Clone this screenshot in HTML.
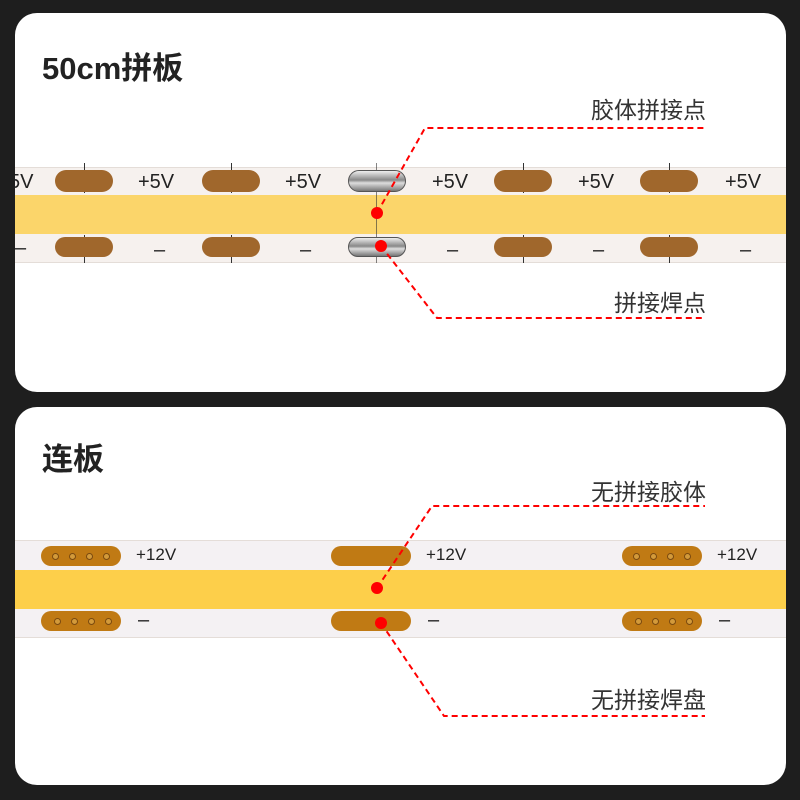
<!DOCTYPE html>
<html><head><meta charset="utf-8"><style>
body{margin:0;width:800px;height:800px;background:#1e1e1e;position:relative;overflow:hidden;font-family:"Liberation Sans","Noto Sans CJK SC",sans-serif}
.card{position:absolute;left:15px;width:771px;background:#fff;border-radius:22px;overflow:hidden}
.t{position:absolute;font-weight:bold;font-size:31px;color:#222}
.lab{position:absolute;font-size:23px;color:#333;right:80px}
.strip{position:absolute;left:0;width:771px;background:#f6f1ee;border-top:1px solid #e4ddd8;border-bottom:1px solid #e4ddd8}
.band{position:absolute;left:0;width:771px;background:#fbd56a}
.pad{position:absolute;background:#a0672c;border-radius:12px}
.pad2{position:absolute;background:#c07a14;border-radius:10px}
.sil{position:absolute;border-radius:12px;background:linear-gradient(#eee,#888 45%,#ddd 60%,#777);border:1px solid #555;box-sizing:border-box}
.v{position:absolute;font-size:20px;color:#222}
.tick{position:absolute;width:1px;background:#333}
.h{position:absolute;display:flex;gap:10px;padding-left:4px}
.h i{width:5px;height:5px;border-radius:50%;border:1px solid #7a4a10;background:#d39a3a}
</style></head><body>
<div class="card" style="top:13px;height:379px">
 <div class="t" style="left:27px;top:30px">50cm拼板</div>
 <div class="lab" style="top:78px">胶体拼接点</div>
 <div class="lab" style="top:271px">拼接焊点</div>
 <div class="strip" style="top:154px;height:94px"></div>
 <div class="band" style="top:182px;height:39px"></div>
 <div class="tick" style="left:69px;top:150px;height:30px"></div>
 <div class="tick" style="left:69px;top:222px;height:28px"></div>
 <div class="tick" style="left:216px;top:150px;height:30px"></div>
 <div class="tick" style="left:216px;top:222px;height:28px"></div>
 <div class="tick" style="left:508px;top:150px;height:30px"></div>
 <div class="tick" style="left:508px;top:222px;height:28px"></div>
 <div class="tick" style="left:654px;top:150px;height:30px"></div>
 <div class="tick" style="left:654px;top:222px;height:28px"></div>
 <div class="tick" style="left:361px;top:150px;height:100px;opacity:.6"></div>
 <div class="pad" style="left:40px;top:157px;width:58px;height:22px"></div>
 <div class="pad" style="left:40px;top:224px;width:58px;height:20px"></div>
 <div class="pad" style="left:187px;top:157px;width:58px;height:22px"></div>
 <div class="pad" style="left:187px;top:224px;width:58px;height:20px"></div>
 <div class="sil" style="left:333px;top:157px;width:58px;height:22px"></div>
 <div class="sil" style="left:333px;top:224px;width:58px;height:20px"></div>
 <div class="pad" style="left:479px;top:157px;width:58px;height:22px"></div>
 <div class="pad" style="left:479px;top:224px;width:58px;height:20px"></div>
 <div class="pad" style="left:625px;top:157px;width:58px;height:22px"></div>
 <div class="pad" style="left:625px;top:224px;width:58px;height:20px"></div>
 <div class="v" style="left:-6px;top:158px">5V</div>
 <div class="v" style="left:123px;top:158px">+5V</div>
 <div class="v" style="left:270px;top:158px">+5V</div>
 <div class="v" style="left:417px;top:158px">+5V</div>
 <div class="v" style="left:563px;top:158px">+5V</div>
 <div class="v" style="left:710px;top:158px">+5V</div>
 <div class="v" style="left:0;top:224px">–</div>
 <div class="v" style="left:139px;top:226px">–</div>
 <div class="v" style="left:285px;top:226px">–</div>
 <div class="v" style="left:432px;top:226px">–</div>
 <div class="v" style="left:578px;top:226px">–</div>
 <div class="v" style="left:725px;top:226px">–</div>
</div>
<div class="card" style="top:407px;height:378px">
 <div class="t" style="left:27px;top:27px">连板</div>
 <div class="lab" style="top:66px">无拼接胶体</div>
 <div class="lab" style="top:274px">无拼接焊盘</div>
 <div class="strip" style="top:133px;height:96px;background:#f4f1f3"></div>
 <div class="band" style="top:163px;height:39px;background:#fdcf4a"></div>
 <div class="pad2" style="left:26px;top:139px;width:80px;height:20px"></div>
 <div class="pad2" style="left:26px;top:204px;width:80px;height:20px"></div>
 <div class="pad2" style="left:316px;top:139px;width:80px;height:20px"></div>
 <div class="pad2" style="left:316px;top:204px;width:80px;height:20px"></div>
 <div class="pad2" style="left:607px;top:139px;width:80px;height:20px"></div>
 <div class="pad2" style="left:607px;top:204px;width:80px;height:20px"></div>
 <div class="h" style="left:33px;top:146px"><i></i><i></i><i></i><i></i></div>
 <div class="h" style="left:35px;top:211px"><i></i><i></i><i></i><i></i></div>
 <div class="h" style="left:614px;top:146px"><i></i><i></i><i></i><i></i></div>
 <div class="h" style="left:616px;top:211px"><i></i><i></i><i></i><i></i></div>
 <div class="v" style="left:121px;top:138px;font-size:17px">+12V</div>
 <div class="v" style="left:411px;top:138px;font-size:17px">+12V</div>
 <div class="v" style="left:702px;top:138px;font-size:17px">+12V</div>
 <div class="v" style="left:123px;top:202px">–</div>
 <div class="v" style="left:413px;top:202px">–</div>
 <div class="v" style="left:704px;top:202px">–</div>
</div>
<svg width="800" height="800" style="position:absolute;left:0;top:0">
 <g stroke="#f00" stroke-width="2" fill="none" stroke-dasharray="6,4">
  <polyline points="377,213 425,128 705,128"/>
  <polyline points="381,246 437,318 705,318"/>
  <polyline points="377,588 432,506 705,506"/>
  <polyline points="381,623 444,716 705,716"/>
 </g>
 <g fill="#f00"><circle cx="377" cy="213" r="6"/><circle cx="381" cy="246" r="6"/><circle cx="377" cy="588" r="6"/><circle cx="381" cy="623" r="6"/></g>
</svg>
</body></html>
